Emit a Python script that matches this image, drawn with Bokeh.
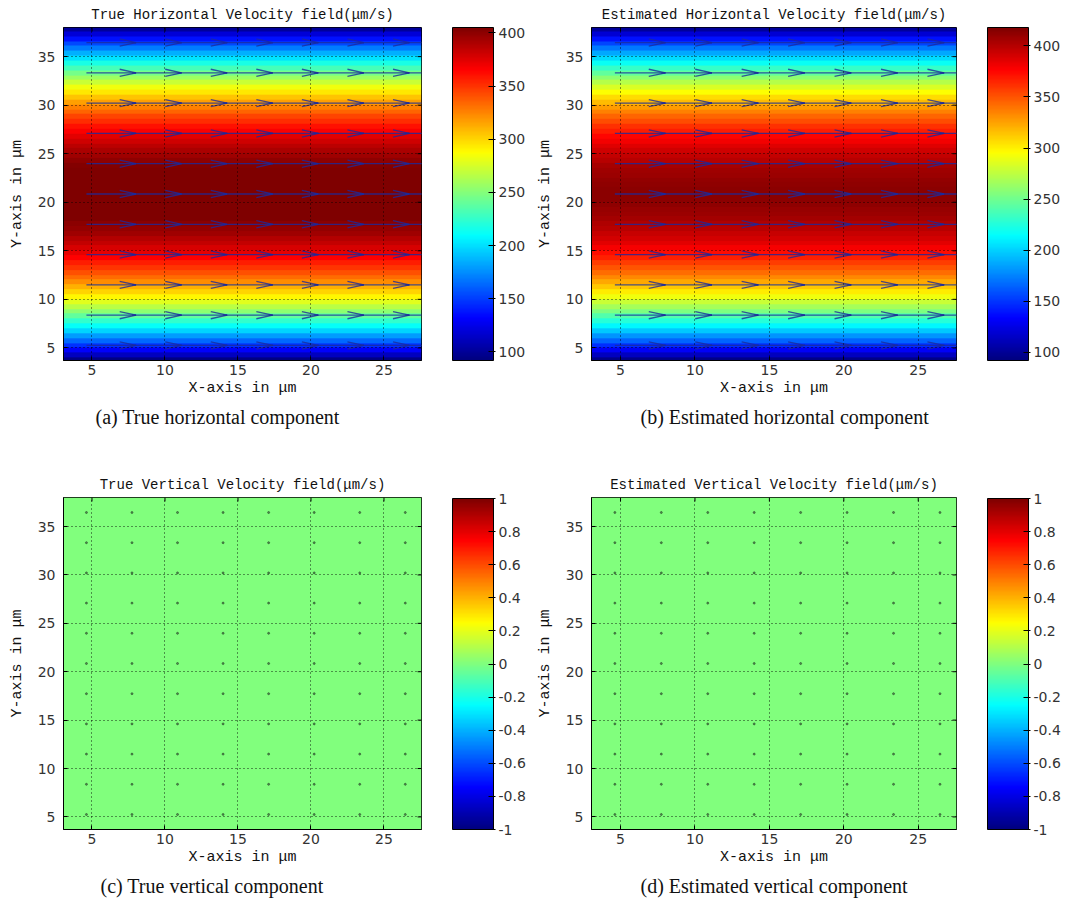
import numpy as np
from bokeh.plotting import figure
from bokeh.layouts import column, row
from bokeh.models import (ColorBar, CustomJSTickFormatter, FixedTicker,
                          LinearColorMapper, Range1d, Title)
from bokeh.embed import file_html
from bokeh.resources import INLINE

# ---------------------------------------------------------------- data
panel_titles = [
    "True Horizontal Velocity field(μm/s)",
    "Estimated Horizontal Velocity field(μm/s)",
    "True Vertical Velocity field(μm/s)",
    "Estimated Vertical Velocity field(μm/s)",
]
captions = [
    "(a) True horizontal component",
    "(b) Estimated horizontal component",
    "(c) True vertical component",
    "(d) Estimated vertical component",
]
x_label = "X-axis in μm"
y_label = "Y-axis in μm"
x_ticks = [5, 10, 15, 20, 25]
y_ticks = [5, 10, 15, 20, 25, 30, 35]
x_extent = [3.05, 27.57]
y_extent = [3.7, 38.0]

# velocity rows across the channel, 0.5 µm apart starting at y = 3.5 µm
row_y0 = 3.5
row_dy = 0.5
u_true = [94, 112, 130, 147, 164, 180, 196, 211, 225, 239,
          253, 266, 278, 290, 301, 312, 322, 332, 341, 349,
          357, 365, 372, 378, 384, 389, 394, 398, 401, 405,
          407, 409, 411, 412, 412,
          412, 411, 410, 408, 406, 403, 399, 395, 391, 386,
          380, 374, 367, 360, 352, 344, 335, 326, 316, 305,
          294, 283, 271, 258, 245, 231, 217, 202, 186, 170,
          154, 137, 119, 101]
u_estimated = [95, 113, 131, 148, 165, 181, 197, 212, 226, 240,
               254, 267, 279, 291, 302, 313, 323, 333, 342, 350,
               358, 366, 373, 379, 385, 390, 395, 399, 402, 406,
               408, 410, 412, 413, 413,
               413, 412, 411, 409, 407, 404, 400, 396, 392, 387,
               381, 375, 368, 361, 353, 345, 336, 327, 317, 306,
               295, 284, 272, 259, 246, 232, 218, 203, 187, 171,
               155, 138, 120, 102]
v_true = [0.0] * 69
v_estimated = [0.0] * 69

# quiver sample grid (µm)
quiver_x = [4.62, 7.74, 10.86, 13.98, 17.10, 20.22, 23.34, 26.46]
quiver_y = [5.25, 8.37, 11.49, 14.61, 17.73, 20.85, 23.97, 27.09, 30.21, 33.33, 36.45]
# drawn arrow length (µm) of each horizontal-velocity row
arrow_len = [3.4] * 11

# colour bars
h_cb_ticks = [100, 150, 200, 250, 300, 350, 400]
v_cb_ticks = [-1, -0.8, -0.6, -0.4, -0.2, 0, 0.2, 0.4, 0.6, 0.8, 1]
h_true_limits = [92, 405]
h_est_limits = [92, 418]
v_limits = [-1, 1]


# ---------------------------------------------------------------- style
def jet(n=256):
    cols = []
    for i in range(n):
        t = i / (n - 1)
        r = min(max(1.5 - abs(4 * t - 3), 0), 1)
        g = min(max(1.5 - abs(4 * t - 2), 0), 1)
        b = min(max(1.5 - abs(4 * t - 1), 0), 1)
        cols.append("#%02x%02x%02x" % (int(r * 255), int(g * 255), int(b * 255)))
    return cols


JET = jet()
LABEL_FONT = "Liberation Mono"
SANS = "DejaVu Sans"
TICK_COLOR = "#333333"

FRAME_L, FRAME_W, FRAME_H = 63, 365, 333
TICK_PX = 4


def make_panel(title, caption, field, limits, cb_ticks, fig_w, fig_h, top,
               cap_offset, cb_top, cb_h, arrows):
    p = figure(width=fig_w, height=fig_h, output_backend="svg", toolbar_location=None,
               x_range=Range1d(*x_extent), y_range=Range1d(*y_extent),
               min_border_left=FRAME_L, min_border_right=fig_w - FRAME_L - FRAME_W,
               min_border_top=top, min_border_bottom=fig_h - top - FRAME_H,
               background_fill_color="white", border_fill_color="white",
               title=None)
    p.outline_line_color = "black"
    p.outline_line_width = 1

    mapper = LinearColorMapper(palette=JET, low=limits[0], high=limits[1])
    img = np.array(field, dtype=float)[:, None]
    p.image(image=[img], x=x_extent[0], y=row_y0, dw=x_extent[1] - x_extent[0],
            dh=row_dy * len(field), color_mapper=mapper)

    # dotted grid at the major ticks
    for g, t in ((p.xgrid, x_ticks), (p.ygrid, y_ticks)):
        g.ticker = FixedTicker(ticks=t)
        g.grid_line_color = "black"
        g.grid_line_dash = "1 3"
        g.grid_line_alpha = 0.85
        g.grid_line_width = 1
        g.level = "overlay"

    gx = np.array(quiver_x)
    gy = np.array(quiver_y)
    X0 = np.repeat(gx[None, :], len(gy), axis=0)
    Y0 = np.repeat(gy[:, None], len(gx), axis=1)
    if arrows:
        LL = np.repeat(np.array(arrow_len)[:, None], len(gx), axis=1)
        tip = X0 + LL
        back = tip - 0.33 * LL
        spread = 0.33 * 0.33 * LL
        acol = "#1c2a9c"
        kw = dict(line_color=acol, line_width=1.3, line_alpha=0.8)
        p.segment(X0.ravel(), Y0.ravel(), tip.ravel(), Y0.ravel(), **kw)
        p.segment(tip.ravel(), Y0.ravel(), back.ravel(), (Y0 + spread).ravel(), **kw)
        p.segment(tip.ravel(), Y0.ravel(), back.ravel(), (Y0 - spread).ravel(), **kw)
    else:
        p.scatter(X0.ravel(), Y0.ravel(), size=2, color="#2b4a2b", alpha=0.6)

    # inward tick marks on the top and right edges of the box
    dx = TICK_PX * (x_extent[1] - x_extent[0]) / FRAME_W
    dy = TICK_PX * (y_extent[1] - y_extent[0]) / FRAME_H
    xt = np.array(x_ticks, dtype=float)
    yt = np.array(y_ticks, dtype=float)
    p.segment(xt, np.full_like(xt, y_extent[1]), xt, np.full_like(xt, y_extent[1] - dy),
              line_color="black", line_width=1)
    p.segment(np.full_like(yt, x_extent[1]), yt, np.full_like(yt, x_extent[1] - dx), yt,
              line_color="black", line_width=1)

    # axes
    for ax, ticks in ((p.xaxis[0], x_ticks), (p.yaxis[0], y_ticks)):
        ax.ticker = FixedTicker(ticks=ticks)
        ax.major_tick_in = TICK_PX
        ax.major_tick_out = 0
        ax.minor_tick_line_color = None
        ax.axis_line_color = "black"
        ax.major_tick_line_color = "black"
        ax.major_label_text_font = SANS
        ax.major_label_text_font_size = "14px"
        ax.major_label_text_color = TICK_COLOR
        ax.axis_label_text_font = LABEL_FONT
        ax.axis_label_text_font_size = "15px"
        ax.axis_label_text_font_style = "normal"
        ax.axis_label_text_color = "#111111"
    p.xaxis.axis_label = x_label
    p.yaxis.axis_label = y_label
    p.xaxis.major_label_standoff = 4
    p.xaxis.axis_label_standoff = 2
    p.yaxis.major_label_standoff = 8
    p.yaxis.axis_label_standoff = 9

    p.add_layout(Title(text=title, align="center", text_font=LABEL_FONT,
                       text_font_size="14px", text_font_style="normal",
                       text_color="#111111", standoff=9), "above")

    # sub-figure caption under the axis label
    p.add_layout(Title(text=caption, align="left", offset=cap_offset,
                       text_font="Liberation Serif", text_font_size="20px",
                       text_font_style="normal", text_color="#111111",
                       standoff=8), "below")

    fmt = CustomJSTickFormatter(code="return String(tick);")
    cb = ColorBar(color_mapper=mapper, ticker=FixedTicker(ticks=cb_ticks), formatter=fmt,
                  width=41, height=cb_h, location=(31, top + FRAME_H - cb_top - cb_h),
                  padding=0, margin=0, major_tick_in=5, major_tick_out=2,
                  major_tick_line_color="black", minor_tick_line_color=None,
                  bar_line_color="black", label_standoff=3,
                  major_label_text_font=SANS, major_label_text_font_size="14px",
                  major_label_text_color=TICK_COLOR,
                  background_fill_alpha=0, border_line_color=None)
    p.add_layout(cb, "right")
    return p


pa = make_panel(panel_titles[0], captions[0], u_true, h_true_limits, h_cb_ticks,
                528, 470, 27, 32, 27, 333, True)
pb = make_panel(panel_titles[1], captions[1], u_estimated, h_est_limits, h_cb_ticks,
                540, 470, 27, 49, 27, 333, True)
pc = make_panel(panel_titles[2], captions[2], v_true, v_limits, v_cb_ticks,
                528, 443, 26, 37, 28, 331, False)
pd = make_panel(panel_titles[3], captions[3], v_estimated, v_limits, v_cb_ticks,
                540, 443, 26, 49, 28, 331, False)

layout = column(row(pa, pb), row(pc, pd))
open("out.html", "w").write(file_html(layout, INLINE))
